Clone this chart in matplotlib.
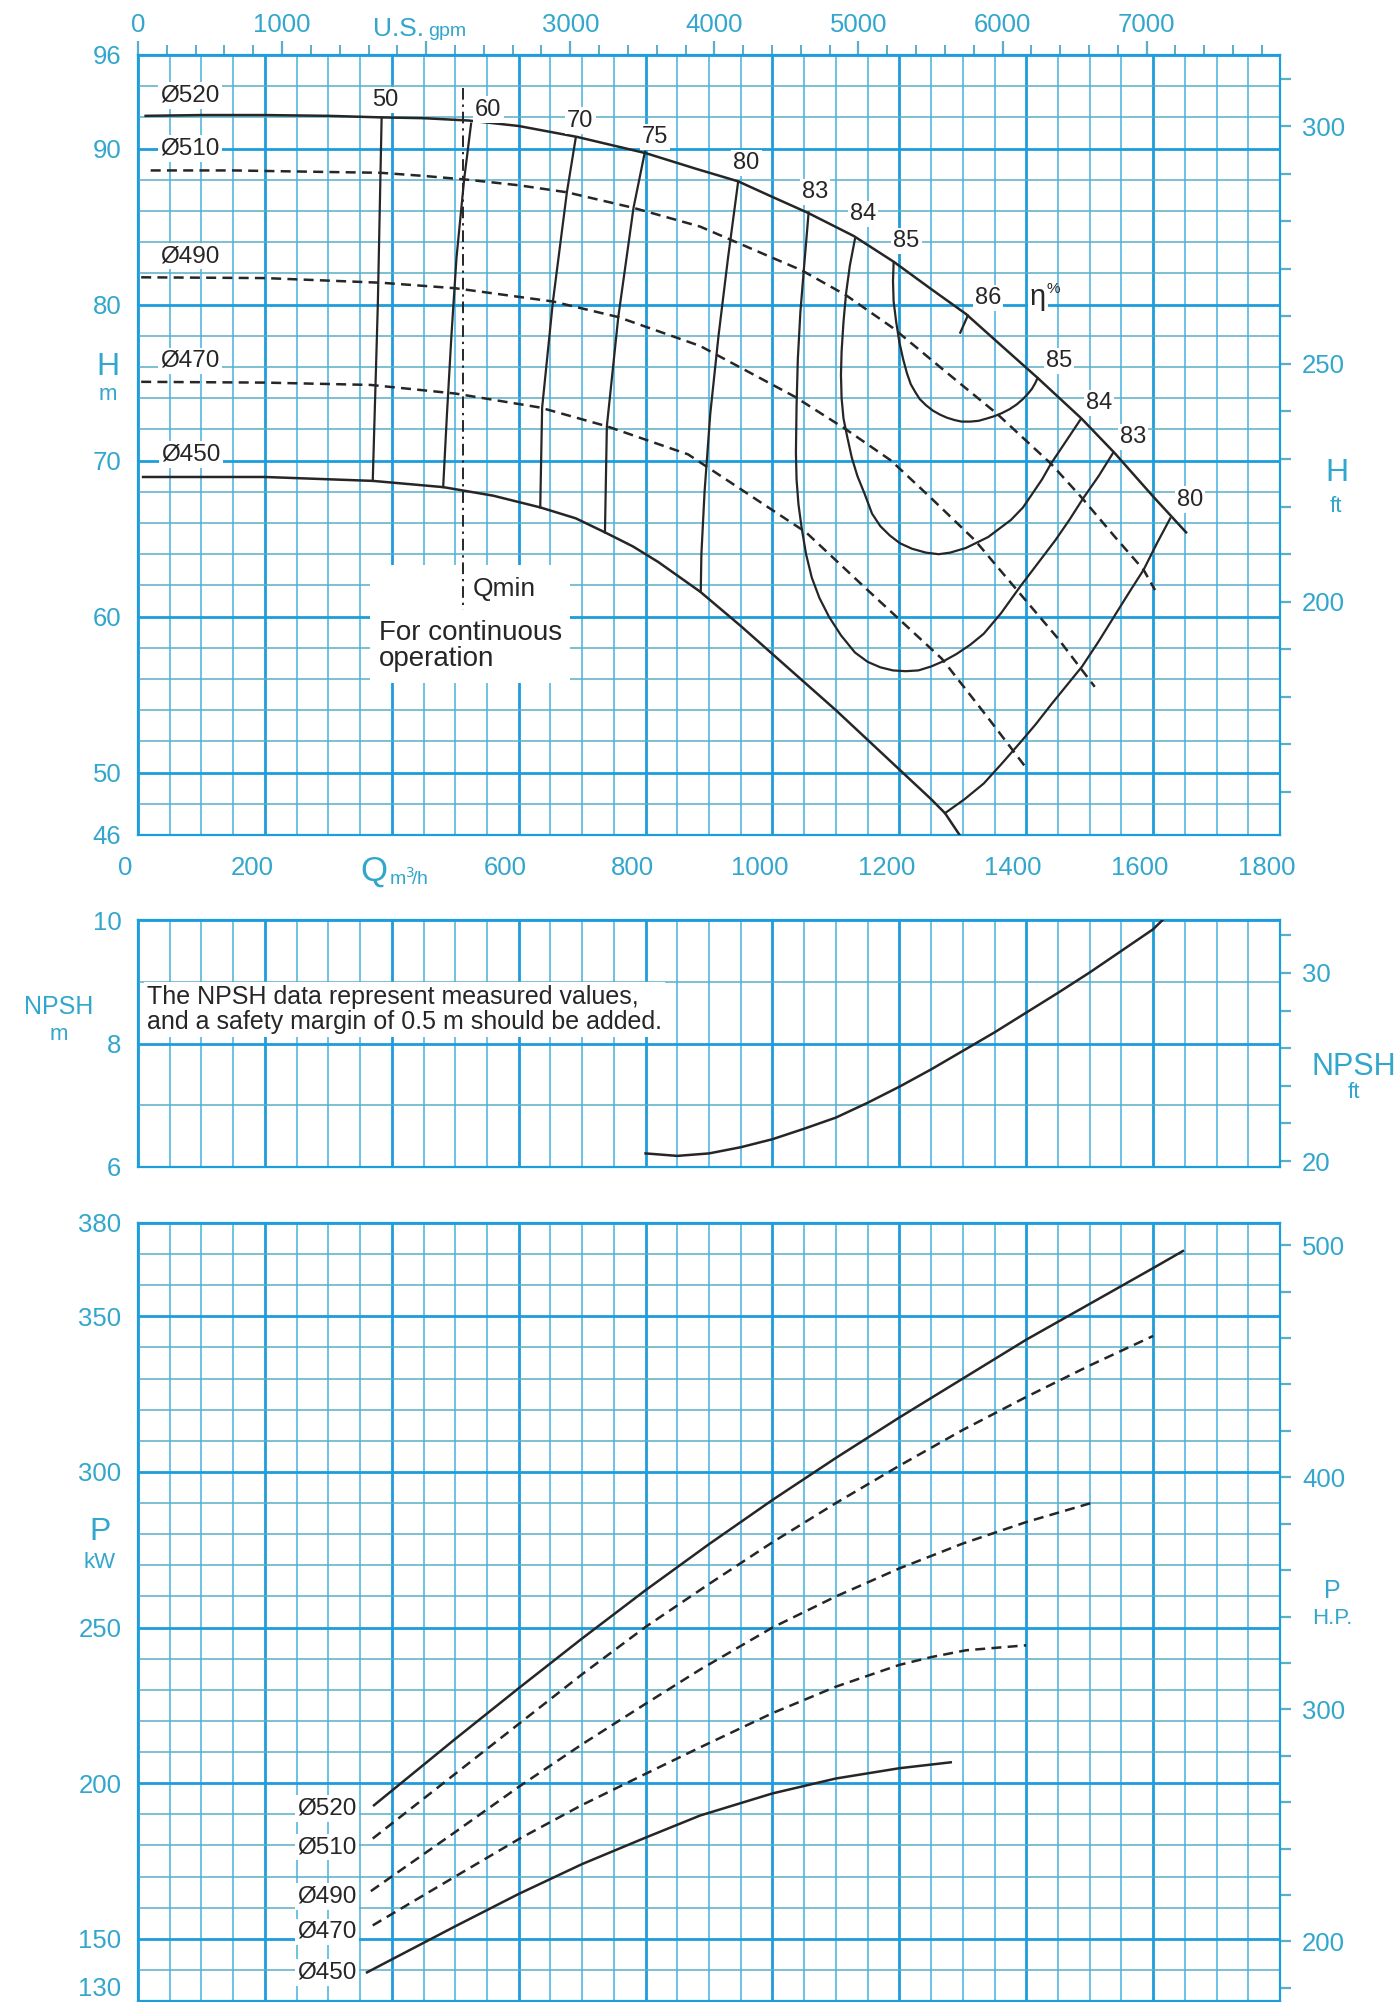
import numpy as np
import matplotlib
matplotlib.use('Agg')
import matplotlib.pyplot as plt
from matplotlib.patches import Rectangle
from matplotlib.transforms import offset_copy, ScaledTranslation

plt.rcParams['font.family'] = ['Liberation Sans', 'DejaVu Sans']

# ---------------- data ----------------
q_ticks = [0, 200, 400, 600, 800, 1000, 1200, 1400, 1600, 1800]
q_labels = ['0', '200', '', '600', '800', '1000', '1200', '1400', '1600', '1800']
gpm_ticks = [0, 1000, 2000, 3000, 4000, 5000, 6000, 7000]
gpm_labels = ['0', '1000', '', '3000', '4000', '5000', '6000', '7000']

# head curves  (Q m3/h , H m)
q_520 = [12, 100, 200, 300, 384, 450, 521, 600, 692, 801, 880, 946, 1000, 1055, 1128, 1191,
         1250, 1305, 1360, 1418, 1487, 1539, 1600, 1652]
h_520 = [92.1, 92.15, 92.15, 92.1, 92.0, 91.95, 91.8, 91.45, 90.75, 89.7, 88.7, 87.9, 86.9,
         85.9, 84.4, 82.75, 81.0, 79.4, 77.4, 75.3, 72.7, 70.5, 67.7, 65.4]
q_510 = [20, 150, 300, 382, 450, 521, 600, 676, 781, 886, 1000, 1046, 1116, 1190, 1270, 1354,
         1439, 1488, 1540, 1585, 1603]
h_510 = [88.6, 88.6, 88.5, 88.45, 88.25, 88.0, 87.65, 87.2, 86.2, 85.0, 83.0, 82.2, 80.6, 78.5,
         75.8, 73.0, 69.8, 67.6, 65.1, 63.0, 61.7]
q_490 = [5, 200, 384, 500, 654, 757, 886, 1035, 1116, 1187, 1250, 1319, 1400, 1450, 1508]
h_490 = [81.75, 81.7, 81.4, 81.05, 80.2, 79.2, 77.35, 74.1, 72.0, 70.0, 67.6, 64.9, 61.0, 58.6, 55.5]
q_470 = [5, 200, 367, 500, 634, 739, 867, 1053, 1150, 1267, 1340, 1400]
h_470 = [75.05, 75.0, 74.85, 74.3, 73.4, 72.2, 70.4, 65.4, 61.7, 57.3, 53.5, 50.3]
q_450 = [8, 200, 370, 481, 560, 634, 690, 736, 780, 820, 886, 950, 1000, 1100, 1200, 1250,
         1272, 1295]
h_450 = [68.95, 68.95, 68.7, 68.3, 67.75, 67.0, 66.3, 65.4, 64.5, 63.5, 61.6, 59.4, 57.6, 54.0,
         50.2, 48.3, 47.4, 46.0]

# iso-efficiency lines (Q m3/h , H m)
e50_q, e50_h = [384, 378, 370], [92.0, 80.0, 68.7]
e60_q, e60_h = [525, 514, 502, 494, 487, 481], [91.6, 88.0, 83.0, 78.0, 73.0, 68.3]
e70_q, e70_h = [690, 676, 654, 637, 634], [90.7, 87.2, 80.2, 73.4, 67.0]
e75_q, e75_h = [799, 781, 757, 739, 736], [89.8, 86.2, 79.2, 72.2, 65.4]
e80_q, e80_h = [946, 930, 915, 902, 893, 888, 887], [87.9, 83.0, 78.0, 73.0, 68.0, 64.0, 61.6]
e83_q = [1057, 1050, 1044, 1040, 1038, 1037, 1038, 1041, 1046, 1053, 1062, 1074, 1089, 1108,
         1130, 1150, 1170, 1190, 1210, 1230, 1250, 1270, 1290, 1312, 1333, 1360, 1390, 1418,
         1446, 1468, 1490, 1514, 1537]
e83_h = [85.9, 82.5, 79.5, 76.5, 73.5, 70.5, 68.8, 67.2, 65.7, 64.0, 62.5, 61.2, 60.0, 58.8,
         57.7, 57.1, 56.75, 56.55, 56.5, 56.55, 56.8, 57.15, 57.6, 58.2, 58.9, 60.2, 61.9, 63.4,
         64.9, 66.2, 67.6, 69.0, 70.5]
e84_q = [1130, 1122, 1116, 1112, 1109, 1108, 1109, 1112, 1118, 1125, 1134, 1145, 1157, 1170,
         1185, 1201, 1220, 1242, 1262, 1280, 1305, 1340, 1376, 1395, 1410, 1425, 1439, 1462, 1485]
e84_h = [84.2, 82.5, 80.7, 78.9, 77.0, 75.5, 74.0, 72.7, 71.5, 70.2, 69.0, 67.9, 66.6, 65.8,
         65.2, 64.7, 64.35, 64.1, 64.0, 64.1, 64.4, 65.1, 66.2, 67.0, 67.9, 68.8, 69.8, 71.2, 72.6]
e85_q = [1191, 1190, 1191, 1195, 1200, 1206, 1212, 1218, 1225, 1232, 1242, 1253, 1264, 1275,
         1287, 1298, 1312, 1325, 1338, 1350, 1362, 1374, 1385, 1395, 1403, 1409, 1414, 1418]
e85_h = [82.7, 81.5, 80.2, 78.9, 77.6, 76.5, 75.6, 74.9, 74.4, 73.95, 73.55, 73.2, 72.95, 72.75,
         72.6, 72.5, 72.5, 72.55, 72.7, 72.85, 73.05, 73.3, 73.6, 73.95, 74.3, 74.6, 74.95, 75.3]
e86_q, e86_h = [1308, 1296], [79.3, 78.2]
e80r_q = [1627, 1606, 1585, 1563, 1540, 1514, 1488, 1464, 1440, 1415, 1390, 1362, 1333, 1303, 1272]
e80r_h = [66.3, 64.7, 63.0, 61.6, 60.1, 58.4, 56.8, 55.6, 54.4, 53.1, 51.9, 50.6, 49.3, 48.3, 47.4]

qmin_q = 512
qmin_h = [93.9, 60.4]

# NPSH (Q m3/h , m)
npsh_q = [800, 850, 900, 950, 1000, 1050, 1100, 1150, 1200, 1250, 1300, 1350, 1400, 1450, 1500,
          1550, 1600, 1615]
npsh_m = [6.22, 6.18, 6.22, 6.32, 6.45, 6.62, 6.8, 7.04, 7.3, 7.58, 7.88, 8.18, 8.5, 8.82,
          9.15, 9.5, 9.85, 10.0]

# power (Q m3/h , kW)
pq_520 = [372, 500, 600, 700, 800, 900, 1000, 1100, 1200, 1300, 1400, 1500, 1600, 1647]
p_520 = [192.9, 214.2, 230.5, 246.5, 262, 276.8, 291, 304.5, 317.5, 330, 342.5, 354, 365.5, 371]
pq_510 = [370, 500, 600, 700, 800, 900, 1000, 1100, 1200, 1300, 1400, 1500, 1600]
p_510 = [182.2, 203, 219, 235, 250.2, 264, 277.4, 290, 302, 313.5, 324.1, 334.2, 343.7]
pq_490 = [367, 500, 600, 700, 800, 886, 1000, 1100, 1200, 1300, 1400, 1502]
p_490 = [165.3, 184.3, 198.8, 212.5, 225.5, 236.5, 250, 260, 269, 277, 283.9, 290]
pq_470 = [370, 500, 600, 700, 800, 886, 1000, 1100, 1200, 1250, 1305, 1400]
p_470 = [154.3, 170, 182, 193, 203, 211.5, 222.5, 231, 238, 240.5, 242.7, 244.3]
pq_450 = [361, 500, 600, 700, 800, 886, 1000, 1100, 1200, 1281]
p_450 = [139.2, 154.0, 164.4, 174, 182.5, 189.6, 196.7, 201.5, 204.8, 206.7]

# ---------------- styling ----------------
W, H = 1396, 2002
BLUE = '#1e9ddb'
BLUE_MIN = '#45b2de'
TEAL = '#5aaec8'
LBL = '#32a6cc'
INK = '#262626'
BOX = dict(facecolor='white', edgecolor='none', pad=1.5)
DASH = (0, (4, 2.5))
TICK_FS = 18.5

fig = plt.figure(figsize=(W / 100, H / 100), dpi=100)


def axes_px(left, top, right, bottom):
    return fig.add_axes([left / W, 1 - bottom / H, (right - left) / W, (bottom - top) / H])


def paper(ax, ylo, yhi, ymaj, ystep):
    ax.set_xlim(0, 1800)
    ax.set_ylim(ylo, yhi)
    ax.set_xticks(q_ticks)
    ax.set_xticks(np.arange(0, 1801, 50), minor=True)
    ax.set_yticks(ymaj)
    ax.set_yticks(np.arange(ylo, yhi + 0.01, ystep), minor=True)
    ax.grid(axis='x', which='minor', color=BLUE_MIN, lw=1.1)
    ax.grid(axis='x', which='major', color=BLUE, lw=2.0)
    ax.grid(axis='y', which='minor', color=TEAL, lw=1.1)
    ax.grid(axis='y', which='major', color=BLUE, lw=2.0)
    ax.set_axisbelow(True)
    ax.tick_params(which='both', length=0, labelsize=TICK_FS, labelcolor=LBL)
    ax.tick_params(axis='y', pad=12)
    for s in ax.spines.values():
        s.set_color(BLUE)
        s.set_linewidth(1.6)


def right_scale(ax, fwd, inv, major, minor):
    sec = ax.secondary_yaxis('right', functions=(fwd, inv))
    sec.set_yticks(major)
    sec.set_yticks(minor, minor=True)
    sec.tick_params(which='both', length=8, width=1.6, color=TEAL,
                    labelsize=TICK_FS, labelcolor=LBL, pad=8)
    sec.spines['right'].set_visible(False)
    return sec


def figtext(x, y, s, size, **kw):
    fig.text(x / W, 1 - y / H, s, fontsize=size, color=LBL, ha='center', va='center', **kw)


# ---------------- head / efficiency panel ----------------
ax = axes_px(138, 55, 1280, 835)
paper(ax, 46, 96, [46, 50, 60, 70, 80, 90, 96], 2)
ax.set_xticklabels(q_labels)
ax.tick_params(axis='x', pad=15)
shift = ScaledTranslation(-13 / 100, 0, fig.dpi_scale_trans)
for lab in ax.get_xticklabels():
    lab.set_transform(lab.get_transform() + shift)

sec = ax.secondary_xaxis('top', functions=(lambda q: q / 0.22712, lambda g: g * 0.22712))
sec.set_xticks(gpm_ticks, labels=gpm_labels)
sec.set_xticks(np.arange(0, 7801, 200), minor=True)
sec.tick_params(which='major', length=10, width=1.6, color=TEAL, labelsize=TICK_FS,
                labelcolor=LBL, pad=3)
sec.tick_params(which='minor', length=7, width=1.4, color=TEAL)
sec.spines['top'].set_visible(False)

tr = ax.get_xaxis_transform()
ax.text(2000 * 0.22712, 1, 'U.S.', transform=offset_copy(tr, fig, x=-2, y=19, units='dots'),
        fontsize=19, color=LBL, ha='right', va='baseline')
ax.text(2000 * 0.22712, 1, 'gpm', transform=offset_copy(tr, fig, x=2, y=19, units='dots'),
        fontsize=14, color=LBL, ha='left', va='baseline')
ax.text(400, 0, 'Q', transform=offset_copy(tr, fig, x=-4, y=-46, units='dots'),
        fontsize=25, color=LBL, ha='right', va='baseline')
ax.text(400, 0, r'm$^3\!$/h', transform=offset_copy(tr, fig, x=-3, y=-50, units='dots'),
        fontsize=14, color=LBL, ha='left', va='baseline')

right_scale(ax, lambda h: h / 0.3048, lambda f: f * 0.3048,
            [200, 250, 300], np.arange(160, 311, 10))

for q, h, ls in [(q_520, h_520, '-'), (q_510, h_510, DASH), (q_490, h_490, DASH),
                 (q_470, h_470, DASH), (q_450, h_450, '-')]:
    ax.plot(q, h, color=INK, lw=1.8, ls=ls, zorder=3, solid_joinstyle='round')

for q, h in [(e50_q, e50_h), (e60_q, e60_h), (e70_q, e70_h), (e75_q, e75_h),
             (e80_q, e80_h), (e83_q, e83_h), (e84_q, e84_h), (e85_q, e85_h),
             (e86_q, e86_h), (e80r_q, e80r_h)]:
    ax.plot(q, h, color=INK, lw=1.6, zorder=3, solid_joinstyle='round')

for s, q, h in [('Ø520', 82, 93.4), ('Ø510', 82, 90.0), ('Ø490', 82, 83.1),
                ('Ø470', 82, 76.4), ('Ø450', 84, 70.4)]:
    ax.text(q, h, s, fontsize=17.5, color=INK, ha='center', va='center', bbox=BOX, zorder=4)

for s, q, h in [('50', 389, 93.1), ('60', 552, 92.5), ('70', 697, 91.8), ('75', 815, 90.75),
                ('80', 959, 89.1), ('83', 1067, 87.2), ('84', 1143, 85.8), ('85', 1211, 84.1),
                ('86', 1340, 80.4), ('85', 1452, 76.4), ('84', 1515, 73.7), ('83', 1568, 71.5),
                ('80', 1658, 67.5)]:
    ax.text(q, h, s, fontsize=17, color=INK, ha='center', va='center', bbox=BOX, zorder=4)
ax.text(1418, 80.5, 'η', fontsize=21, color=INK, ha='center', va='center', bbox=BOX, zorder=4)
ax.text(1442, 81.0, '%', fontsize=11, color=INK, ha='center', va='center', zorder=4)

# Qmin note
ax.add_patch(Rectangle((366, 55.75), 315, 7.55, facecolor='white', edgecolor='none', zorder=1))
ax.plot([qmin_q, qmin_q], qmin_h, color=INK, lw=1.4, ls=(0, (6, 2.5, 1.2, 2.5)), zorder=3)
ax.text(qmin_q + 15, 61.8, 'Qmin', fontsize=19, color=INK, ha='left', va='center', zorder=4)
ax.text(380, 58.1, 'For continuous\noperation', fontsize=20, color=INK, ha='left',
        va='center', linespacing=1.0, zorder=4)

figtext(108, 367, 'H', 23)
figtext(108, 395, 'm', 16)
figtext(1337, 473, 'H', 23)
figtext(1336, 507, 'ft', 16)

# ---------------- NPSH panel ----------------
axn = axes_px(138, 920, 1280, 1167)
paper(axn, 6, 10, [6, 8, 10], 1)
axn.tick_params(labelbottom=False)
right_scale(axn, lambda m: m / 0.3048, lambda f: f * 0.3048, [20, 30], np.arange(20, 33, 2))
axn.plot(npsh_q, npsh_m, color=INK, lw=1.8, zorder=3, solid_joinstyle='round')
axn.text(14, 8.55, 'The NPSH data represent measured values,\nand a safety margin of 0.5 m should be added.',
         fontsize=18, color=INK, ha='left', va='center', linespacing=1.05,
         bbox=dict(facecolor='white', edgecolor='none', pad=2), zorder=4)
figtext(59, 1007, 'NPSH', 18)
figtext(59, 1035, 'm', 16)
figtext(1354, 1067, 'NPSH', 22)
figtext(1354, 1093, 'ft', 16)

# ---------------- power panel ----------------
axp = axes_px(138, 1223, 1280, 2001)
paper(axp, 130, 380, [130, 150, 200, 250, 300, 350, 380], 10)
axp.tick_params(labelbottom=False)
axp.get_yticklabels()[0].set_va('bottom')
right_scale(axp, lambda p: p / 0.7457, lambda hp: hp * 0.7457,
            [200, 300, 400, 500], np.arange(180, 501, 20))

for q, p, ls in [(pq_520, p_520, '-'), (pq_510, p_510, DASH), (pq_490, p_490, DASH),
                 (pq_470, p_470, DASH), (pq_450, p_450, '-')]:
    axp.plot(q, p, color=INK, lw=1.8, ls=ls, zorder=3, solid_joinstyle='round')

for s, p in [('Ø520', 191.9), ('Ø510', 179.4), ('Ø490', 163.6), ('Ø470', 152.2), ('Ø450', 139.2)]:
    axp.text(345, p, s, fontsize=17.5, color=INK, ha='right', va='center', bbox=BOX, zorder=4)

figtext(100, 1532, 'P', 23)
figtext(100, 1563, 'kW', 16)
figtext(1332, 1591, 'P', 18)
figtext(1332, 1619, 'H.P.', 16)

fig.savefig('out.png', dpi=100)
